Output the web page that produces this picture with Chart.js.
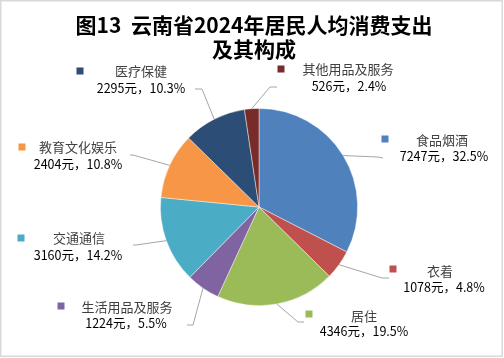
<!DOCTYPE html>
<html><head><meta charset="utf-8">
<script src="https://cdn.jsdelivr.net/npm/chart.js@4/dist/chart.umd.min.js"></script>
<style>html,body{margin:0;padding:0;background:#fff;}canvas{display:block;}</style>
</head><body>
<canvas id="c" width="504" height="358"></canvas>
<script>
const titleLines = ['图13  云南省2024年居民人均消费支出', '及其构成'];
const categories = ['食品烟酒','衣着','居住','生活用品及服务','交通通信','教育文化娱乐','医疗保健','其他用品及服务'];
const amounts = [7247,1078,4346,1224,3160,2404,2295,526];
const shares = [32.5,4.8,19.5,5.5,14.2,10.8,10.3,2.4];
const colors = ['#4F81BD','#C0504D','#9BBB59','#8064A2','#4BACC6','#F79646','#2C4D75','#772C2A'];

// label placement (marker, name, value, leader elbow, leader end)
const labelLayout = [
  {mx:385,my:139,nx:442,ny:140,vx:444,vy:156,ex:378,ey:157,tx:383,ty:158},
  {mx:393,my:269,nx:440,ny:271,vx:444,vy:287,ex:382,ey:278,tx:389,ty:278},
  {mx:309,my:314,nx:364,ny:316,vx:364,vy:331,ex:298,ey:322,tx:304,ty:322},
  {mx:61,my:306,nx:127,ny:307,vx:126,vy:323,ex:193,ey:325,tx:187,ty:325},
  {mx:21,my:238,nx:79,ny:238,vx:78,vy:255,ex:136,ey:245,tx:133,ty:245},
  {mx:22,my:147,nx:78,ny:147,vx:78,vy:164,ex:133,ey:155,tx:130,ty:155},
  {mx:80,my:71,nx:141,ny:71,vx:141,vy:88,ex:202,ey:89,tx:195,ty:89},
  {mx:281,my:69,nx:348,ny:69,vx:349,vy:86,ex:270,ey:87,tx:277,ty:87}
];

const overlay = {
  id:'overlay',
  beforeDraw(chart){
    const ctx = chart.ctx;
    ctx.save();
    ctx.fillStyle = '#fff';
    ctx.fillRect(0,0,chart.width,chart.height);
    ctx.strokeStyle = '#D9D9D9';
    ctx.lineWidth = 1.5;
    ctx.strokeRect(0.75,0.75,chart.width-2.5,chart.height-2.5);
    ctx.restore();
  },
  afterDraw(chart){
    const ctx = chart.ctx;
    ctx.save();
    // title
    ctx.fillStyle = '#000';
    ctx.textAlign = 'center';
    ctx.textBaseline = 'middle';
    ctx.font = 'bold 21px "Noto Sans CJK SC", sans-serif';
    ctx.fillText(titleLines[0], 254, 25);
    ctx.fillText(titleLines[1], 254, 49);
    const meta = chart.getDatasetMeta(0);
    meta.data.forEach((arc, i) => {
      const L = labelLayout[i];
      const mid = (arc.startAngle + arc.endAngle) / 2;
      const px = arc.x + Math.cos(mid) * arc.outerRadius;
      const py = arc.y + Math.sin(mid) * arc.outerRadius;
      ctx.strokeStyle = '#A6A6A6';
      ctx.lineWidth = 1;
      ctx.beginPath();
      ctx.moveTo(px, py);
      ctx.lineTo(L.ex, L.ey);
      ctx.lineTo(L.tx, L.ty);
      ctx.stroke();
      ctx.fillStyle = colors[i];
      ctx.fillRect(L.mx - 3.5, L.my - 3.5, 7, 7);
      ctx.font = '13px "Noto Sans CJK SC", sans-serif';
      ctx.fillStyle = '#404040';
      ctx.textAlign = 'center';
      ctx.fillText(categories[i], L.nx, L.ny);
      ctx.fillStyle = '#000';
      ctx.font = '12.5px "Noto Sans CJK SC", sans-serif';
      ctx.fillText(amounts[i] + '元，' + shares[i].toFixed(1) + '%', L.vx, L.vy);
    });
    ctx.restore();
  }
};

new Chart(document.getElementById('c'), {
  type: 'pie',
  data: {
    labels: categories,
    datasets: [{
      data: amounts,
      backgroundColor: colors,
      borderColor: 'rgba(255,255,255,0.55)',
      borderWidth: 0.8
    }]
  },
  options: {
    responsive: false,
    animation: false,
    layout: {padding: {left:160, right:146, top:108, bottom:52}},
    plugins: {legend:{display:false}, tooltip:{enabled:false}, title:{display:false}}
  },
  plugins: [overlay]
});
</script>
</body></html>
